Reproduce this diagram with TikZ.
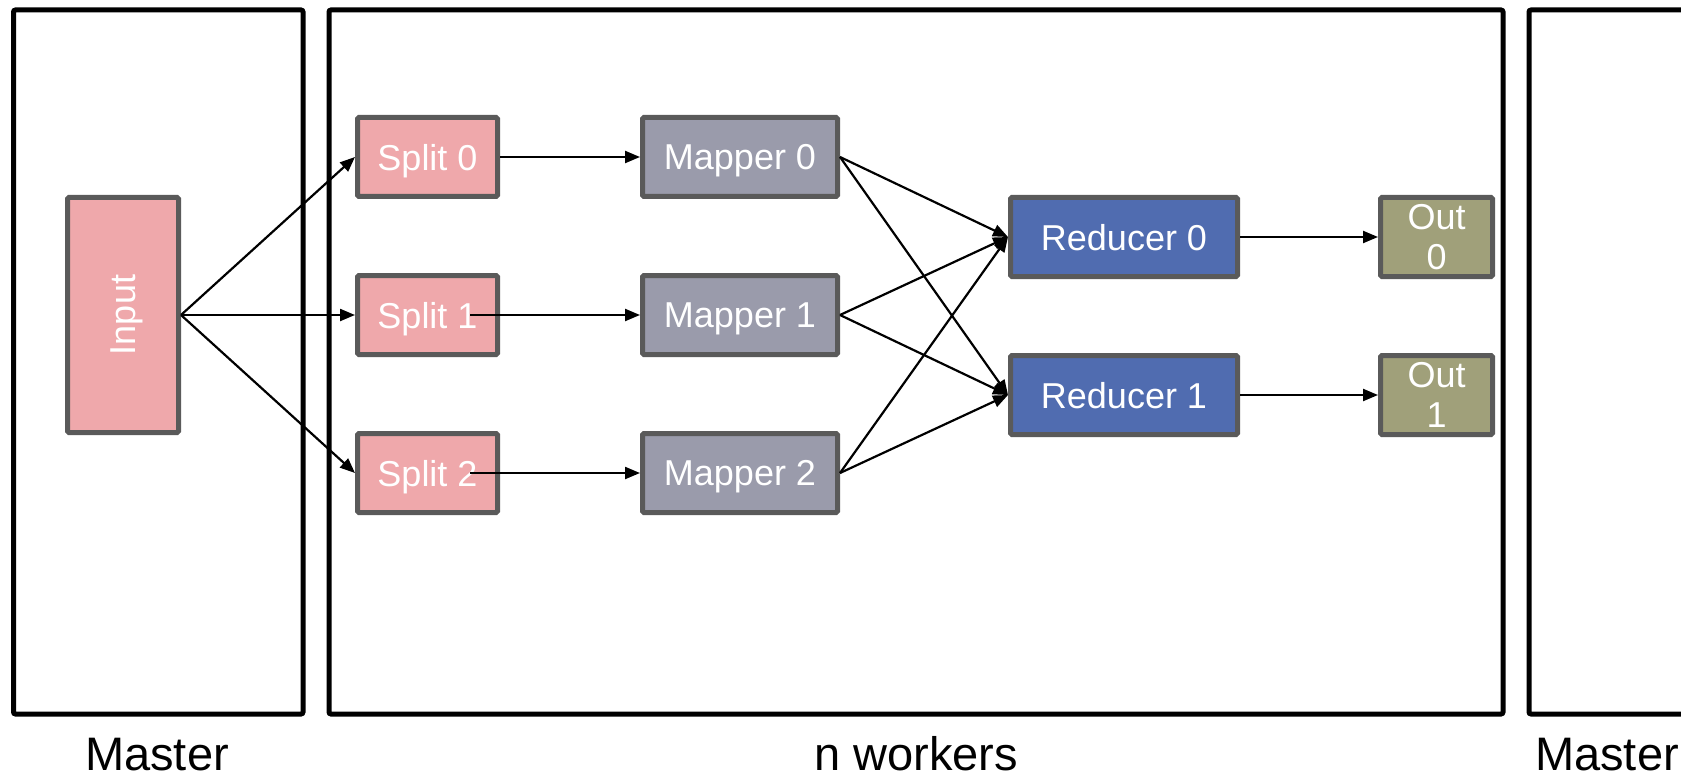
\documentclass[tikz,border=0pt]{standalone}
\usepackage{fontspec}
\setmainfont{Liberation Sans}
\usetikzlibrary{arrows.meta}
\definecolor{pinkfill}{HTML}{EFA8AB}
\definecolor{boxline}{HTML}{5A5A5A}
\definecolor{mapfill}{HTML}{9A9BAB}
\definecolor{redfill}{HTML}{506CB0}
\definecolor{outfill}{HTML}{A0A07A}
\tikzset{
  container/.style={draw=black, line width=5pt, rounded corners=2pt},
  taskbox/.style={draw=boxline, line width=5pt, rounded corners=1.5pt, text=white,
    inner sep=0pt, align=center, text depth=0pt, font=\fontsize{36}{40}\selectfont},
  splitbox/.style={taskbox, fill=pinkfill, minimum width=140pt, minimum height=79pt},
  mapbox/.style={taskbox, fill=mapfill, minimum width=195pt, minimum height=79pt},
  redbox/.style={taskbox, fill=redfill, minimum width=227pt, minimum height=79pt},
  outbox/.style={taskbox, fill=outfill, minimum width=112pt, minimum height=79pt},
  arr/.style={draw=black, line width=2.2pt, -{Triangle[length=15pt,width=12pt]}},
  caption/.style={font=\fontsize{47}{52}\selectfont, anchor=base, inner sep=0pt}
}
\begin{document}
\begin{tikzpicture}[x=1pt,y=-1pt]
\useasboundingbox (0,0) rectangle (1681,778);
% containers
\draw[container] (13.5,10) rectangle (303,714);
\draw[container] (329,10) rectangle (1503,714);
\draw[container] (1529,10) rectangle (1720,714);
% captions
\node[caption] (capm1) at (157,770) {Master};
\node[caption] (capw) at (916,770) {n workers};
\node[caption] (capm2) at (1607,770) {Master};
% tasks
\node[taskbox, fill=pinkfill, minimum width=111pt, minimum height=235pt] (in) at (123,315) {};
\node[rotate=90, text=white, inner sep=0pt, text depth=0pt, font=\fontsize{36}{40}\selectfont] (inlabel) at (in.center) {Input};
\node[splitbox] (s0) at (427.5,157) {Split 0};
\node[splitbox] (s1) at (427.5,315) {Split 1};
\node[splitbox] (s2) at (427.5,473) {Split 2};
\node[mapbox] (m0) at (740,157) {Mapper 0};
\node[mapbox] (m1) at (740,315) {Mapper 1};
\node[mapbox] (m2) at (740,473) {Mapper 2};
\node[redbox] (r0) at (1124,237) {Reducer 0};
\node[redbox] (r1) at (1124,395) {Reducer 1};
\node[outbox] (o0) at (1436.5,237) {Out\\0};
\node[outbox] (o1) at (1436.5,395) {Out\\1};
% connectors
\draw[arr] (in.east) -- (s0.west);
\draw[arr] (in.east) -- (s1.west);
\draw[arr] (in.east) -- (s2.west);
\draw[arr] (s0.east) -- (m0.west);
\draw[arr] ([xshift=-30pt]s1.east) -- (m1.west);
\draw[arr] ([xshift=-30pt]s2.east) -- (m2.west);
\draw[arr] (m0.east) -- (r0.west);
\draw[arr] (m0.east) -- (r1.west);
\draw[arr] (m1.east) -- (r0.west);
\draw[arr] (m1.east) -- (r1.west);
\draw[arr] (m2.east) -- (r0.west);
\draw[arr] (m2.east) -- (r1.west);
\draw[arr] (r0.east) -- (o0.west);
\draw[arr] (r1.east) -- (o1.west);
\end{tikzpicture}
\end{document}
